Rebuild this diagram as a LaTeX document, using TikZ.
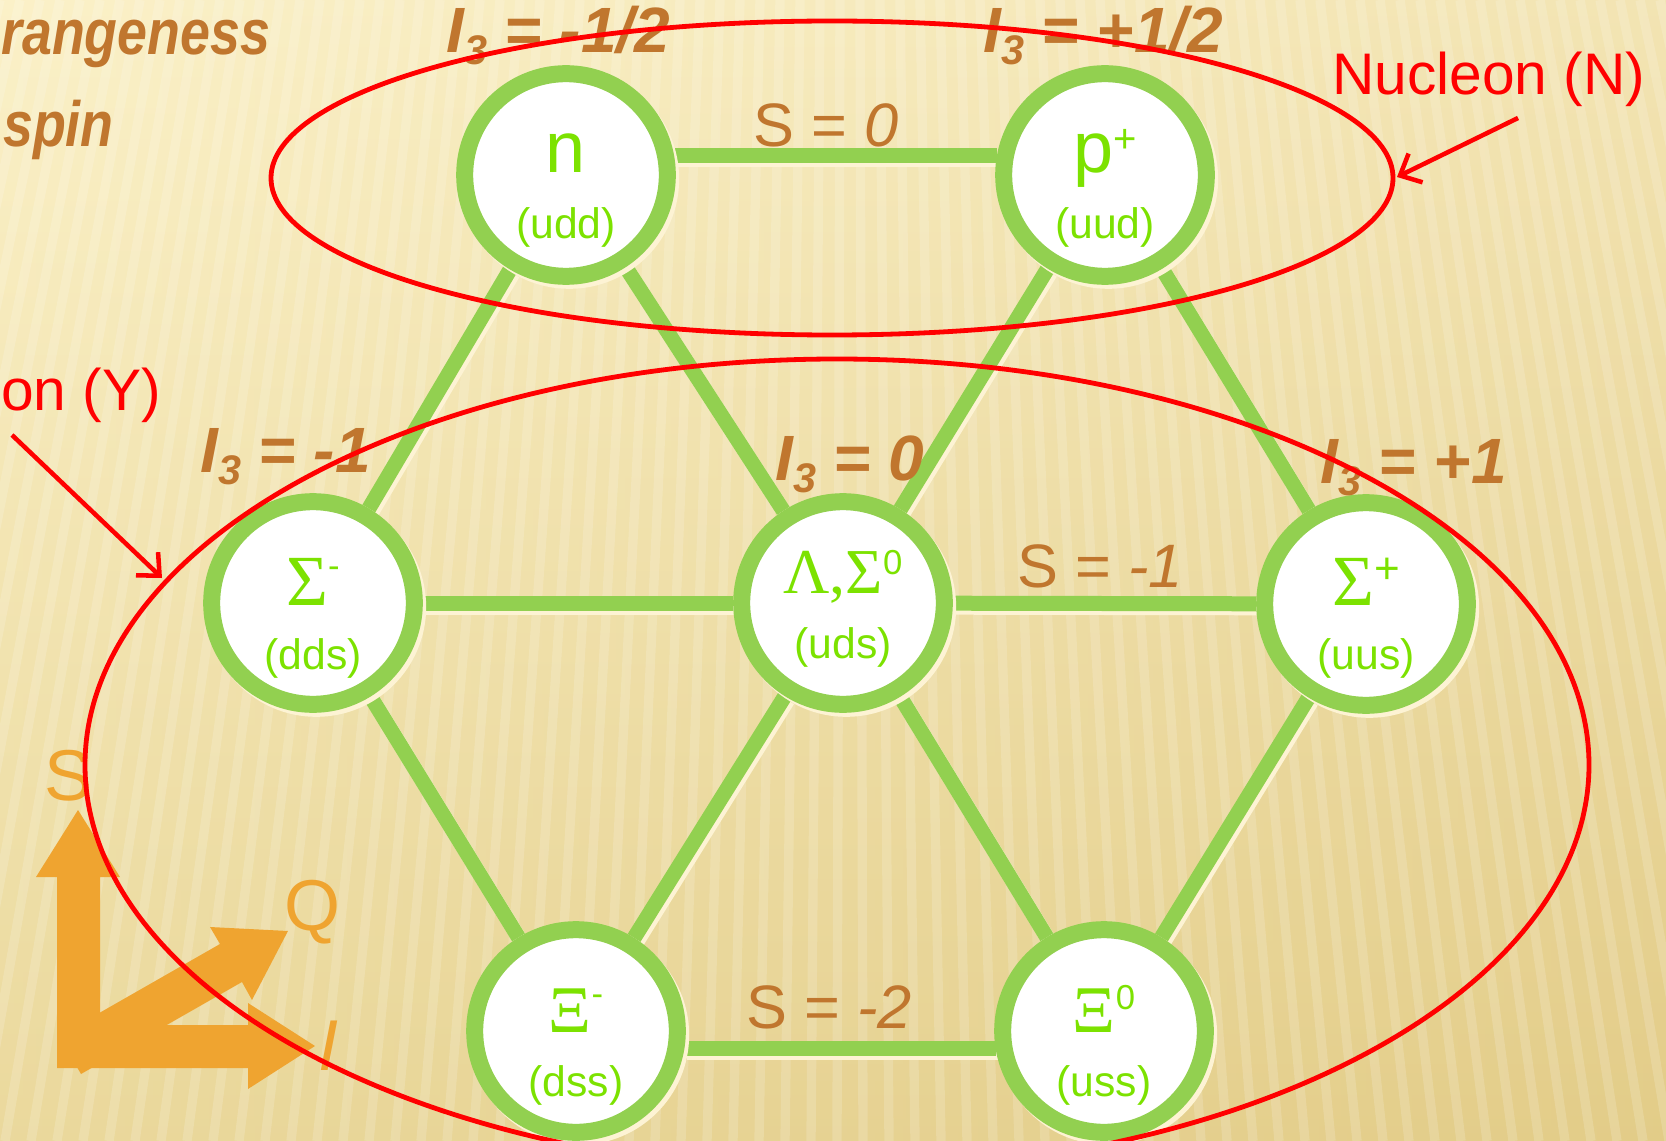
\documentclass[tikz,border=0pt]{standalone}
\usepackage{fontspec}
\setmainfont{Liberation Sans}
\newfontfamily\grk{Liberation Serif}
\usetikzlibrary{arrows.meta,calc}
\definecolor{ring}{RGB}{146,208,80}
\definecolor{ltxt}{RGB}{124,226,0}
\definecolor{brn}{RGB}{192,118,46}
\definecolor{org}{RGB}{239,164,48}
\definecolor{cream}{RGB}{253,243,212}
\definecolor{bgtop}{RGB}{251,241,200}
\definecolor{bgmid}{RGB}{246,230,176}
\definecolor{bgbot}{RGB}{226,204,134}
\definecolor{bgright}{RGB}{228,205,140}
\definecolor{rd}{RGB}{255,0,0}
\pgfdeclarelayer{bg}
\pgfdeclarelayer{edges}
\pgfdeclarelayer{top}
\pgfsetlayers{bg,edges,main,top}
\newcommand\subthree{\raisebox{-9pt}{\fontsize{31}{31}\selectfont 3}}
\begin{document}
\begin{tikzpicture}[x=0.75pt,y=-0.75pt,
  hadron/.style={circle,draw=ring,fill=white,line width=12.75pt,minimum size=152pt,inner sep=0pt,
     preaction={draw=cream,line width=12.75pt,transform canvas={xshift=2.5pt,yshift=-3pt}}},
  link/.style={draw=ring,line width=11.25pt,
     preaction={draw=cream,line width=11.25pt,transform canvas={xshift=2pt,yshift=-3pt}}},
  sym/.style={text=ltxt,anchor=base,inner sep=0pt},
  quark/.style={text=ltxt,anchor=base,inner sep=0pt,font=\fontsize{32}{32}\selectfont},
  ilab/.style={text=brn,anchor=base west,inner sep=0pt,font=\bfseries\itshape\fontsize{48}{48}\selectfont},
  slab/.style={text=brn,anchor=base west,inner sep=0pt,font=\fontsize{46}{46}\selectfont},
  axlab/.style={text=org,anchor=base,inner sep=0pt,font=\fontsize{54}{54}\selectfont},
  grouplab/.style={text=rd,inner sep=0pt,font=\fontsize{44}{44}\selectfont},
  redline/.style={draw=rd,line width=3.6pt},
  redarrow/.style={draw=rd,line width=3.4pt,-{Straight Barb[length=13pt,width=24pt,line width=3.4pt]}}
]
\useasboundingbox (0,0) rectangle (1666,1141);

% background
\begin{pgfonlayer}{bg}
\shade[top color=bgtop, middle color=bgmid, bottom color=bgbot] (0,0) rectangle (1666,1141);
\shade[left color=bgtop, right color=bgright, opacity=0.35] (0,0) rectangle (1666,1141);
\begin{scope}
\clip (0,0) rectangle (1666,1141);
\foreach \i in {-25,...,100} {
  \draw[white,opacity=0.16,line width=7pt] ({\i*20},0) -- ({850+(\i*20-850)*1.3},1141);
}
\end{scope}
\end{pgfonlayer}

% hadrons
\node[hadron] (n) at (566,175) {};
\node[hadron] (p) at (1105,175) {};
\node[hadron] (sm) at (313,603) {};
\node[hadron] (lam) at (843,603) {};
\node[hadron] (sp) at (1366,604) {};
\node[hadron] (xm) at (576,1031) {};
\node[hadron] (xz) at (1104,1031) {};

\node[sym,font=\fontsize{54}{54}\selectfont] (nS) at ($(n)+(0,-2)$) {n};
\node[quark] (nQ) at ($(n)+(0,64)$) {(udd)};
\node[sym,font=\fontsize{54}{54}\selectfont] (pS) at ($(p)+(0,-2)$) {p\raisebox{15pt}{\fontsize{30}{30}\selectfont +}};
\node[quark] (pQ) at ($(p)+(0,64)$) {(uud)};
\node[sym,font=\grk\fontsize{54}{54}\selectfont] (smS) at ($(sm)+(0,2)$) {Σ\raisebox{21pt}{\rmfamily\fontsize{26}{26}\selectfont -}};
\node[quark] (smQ) at ($(sm)+(0,66)$) {(dds)};
\node[sym,font=\grk\fontsize{48}{48}\selectfont] (lamS) at ($(lam)+(0,-10)$) {Λ,Σ\raisebox{14pt}{\rmfamily\fontsize{26}{26}\selectfont 0}};
\node[quark] (lamQ) at ($(lam)+(0,55)$) {(uds)};
\node[sym,font=\grk\fontsize{54}{54}\selectfont] (spS) at ($(sp)+(0,1)$) {Σ\raisebox{16pt}{\rmfamily\fontsize{33}{33}\selectfont +}};
\node[quark] (spQ) at ($(sp)+(0,65)$) {(uus)};
\node[sym,font=\grk\fontsize{50}{50}\selectfont] (xmS) at ($(xm)+(0,1)$) {Ξ\raisebox{20pt}{\rmfamily\fontsize{26}{26}\selectfont -}};
\node[quark] (xmQ) at ($(xm)+(0,65)$) {(dss)};
\node[sym,font=\grk\fontsize{50}{50}\selectfont] (xzS) at ($(xz)+(0,1)$) {Ξ\raisebox{17pt}{\rmfamily\fontsize{26}{26}\selectfont 0}};
\node[quark] (xzQ) at ($(xz)+(0,65)$) {(uss)};

% connectors
\begin{pgfonlayer}{edges}
\draw[link] (n.10) -- (p.170);
\draw[link] (sm) -- (lam);
\draw[link] (lam) -- (sp);
\draw[link] (xm.-9) -- (xz.189);
\draw[link] (n) -- (sm);
\draw[link] (n) -- (lam);
\draw[link] (p) -- (lam);
\draw[link] (p) -- (sp);
\draw[link] (sm) -- (xm);
\draw[link] (lam) -- (xm);
\draw[link] (lam) -- (xz);
\draw[link] (sp) -- (xz);
\end{pgfonlayer}

% brown labels
\node[ilab] (lN1) at (446,53) {I\subthree{} = -1/2};
\node[ilab] (lN2) at (983,53) {I\subthree{} = +1/2};
\node[ilab] (lY1) at (200,472) {I\subthree{} = -1};
\node[ilab] (lY2) at (775,480) {I\subthree{} = 0};
\node[ilab] (lY3) at (1320,483) {I\subthree{} = +1};
\node[slab] (s0) at (753,147) {S = \textit{0}};
\node[slab] (s1) at (1017,587) {S = \textit{-1}};
\node[slab] (s2) at (746,1028) {S = \textit{-2}};
\node[ilab,anchor=base west,font=\bfseries\itshape\fontsize{48}{48}\selectfont] (strg) at (1,55) {\scalebox{0.84}[1]{rangeness}};
\node[ilab,anchor=base east,font=\bfseries\itshape\fontsize{48}{48}\selectfont] (iso) at (114,147) {\scalebox{0.84}[1]{spin}};

% axes
\fill[org] (59,1036) -- (220,944) -- (210,927) -- (288,931) -- (252,1000) -- (242,982) -- (81,1074) -- cycle;
\fill[org] (57,1068) -- (57,877) -- (36,877) -- (78,810) -- (120,877) -- (100,877) -- (100,1025) -- (248,1025) -- (248,1003) -- (315,1046) -- (248,1089) -- (248,1068) -- cycle;
\node[axlab] (axS) at (69,800) {S};
\node[axlab] (axQ) at (312,930) {Q};
\node[axlab,font=\itshape\fontsize{54}{54}\selectfont] (axI) at (328,1070) {I};

% groups
\begin{pgfonlayer}{top}
\draw[redline] (832,178) ellipse [x radius=561, y radius=157];
\draw[redline] (837,765) ellipse [x radius=752, y radius=406];
\node[grouplab,anchor=base west] (nuc) at (1332,95) {Nucleon (N)};
\node[grouplab,anchor=base west] (hyp) at (1,410) {on (Y)};
\coordinate (nucT) at (1518,118);
\coordinate (nucH) at (1397,177);
\coordinate (hypT) at (12,435);
\coordinate (hypH) at (162,578);
\draw[redarrow] (nucT) -- (nucH);
\draw[redarrow] (hypT) -- (hypH);
\end{pgfonlayer}
\end{tikzpicture}
\end{document}
